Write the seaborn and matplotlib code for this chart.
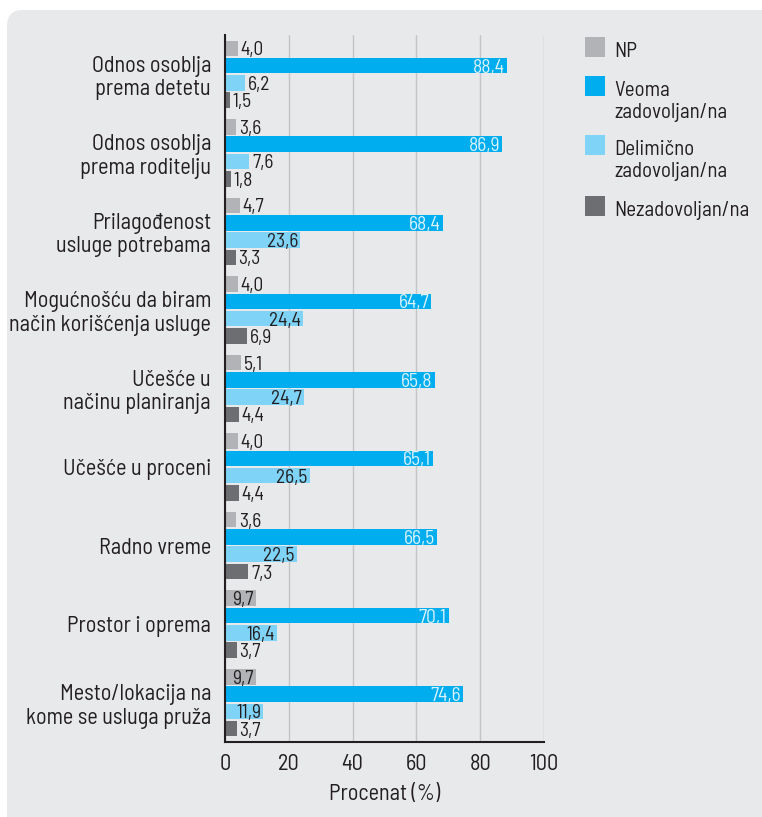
import numpy as np
import pandas as pd
import matplotlib
matplotlib.use("Agg")
import matplotlib.pyplot as plt
import seaborn as sns
from matplotlib.patches import FancyBboxPatch, Rectangle
from matplotlib.ticker import FixedLocator

# ---- data -------------------------------------------------------------
categories = [
    "Odnos osoblja\nprema detetu",
    "Odnos osoblja\nprema roditelju",
    "Prilagođenost\nusluge potrebama",
    "Mogućnošću da biram\nnačin korišćenja usluge",
    "Učešće u\nnačinu planiranja",
    "Učešće u proceni",
    "Radno vreme",
    "Prostor i oprema",
    "Mesto/lokacija na\nkome se usluga pruža",
]
series = ["NP", "Veoma\nzadovoljan/na", "Delimično\nzadovoljan/na", "Nezadovoljan/na"]
np_vals = [4.0, 3.6, 4.7, 4.0, 5.1, 4.0, 3.6, 9.7, 9.7]
veoma_vals = [88.4, 86.9, 68.4, 64.7, 65.8, 65.1, 66.5, 70.1, 74.6]
delim_vals = [6.2, 7.6, 23.6, 24.4, 24.7, 26.5, 22.5, 16.4, 11.9]
nezad_vals = [1.5, 1.8, 3.3, 6.9, 4.4, 4.4, 7.3, 3.7, 3.7]
x_ticks = [0, 20, 40, 60, 80, 100]
x_label = "Procenat (%)"

colors = ["#b1b3b6", "#00aeef", "#7fd3f7", "#6d6e71"]
series_vals = [np_vals, veoma_vals, delim_vals, nezad_vals]

df = pd.DataFrame({
    "kategorija": np.repeat(categories, len(series)),
    "grupa": series * len(categories),
    "vrednost": [series_vals[s][c] for c in range(len(categories)) for s in range(len(series))],
})

# ---- style -------------------------------------------------------------
sns.set_theme(style="white")
plt.rcParams["font.family"] = ["Barlow Semi Condensed", "DejaVu Sans"]
INK = "#231f20"
PANEL = "#e8e9eb"

W, H = 762, 817
fig = plt.figure(figsize=(W / 100, H / 100), dpi=100)
fig.patch.set_facecolor("white")
fig.add_artist(FancyBboxPatch((7 / W, -0.05), 1.2, (H - 10) / H + 0.05,
                              boxstyle="round,pad=0,rounding_size=0.02",
                              transform=fig.transFigure, facecolor=PANEL,
                              edgecolor="none", zorder=-10))

ax = fig.add_axes([225 / W, 75 / H, 319 / W, 707 / H])
ax.set_facecolor("none")

sns.barplot(data=df, y="kategorija", x="vrednost", hue="grupa",
            order=categories, hue_order=series, palette=colors,
            orient="h", width=0.88, gap=0.1, saturation=1, linewidth=0,
            errorbar=None, legend=False, ax=ax)

# value labels: inside the bar end when there is room, otherwise just past it
for k, cont in enumerate(ax.containers):
    for rect, v in zip(cont.patches, series_vals[k]):
        yc = rect.get_y() + rect.get_height() / 2
        txt = f"{v:.1f}".replace(".", ",")
        if v >= 9:
            ax.annotate(txt, (v, yc), xytext=(-1.5, 0), textcoords="offset points",
                        ha="right", va="center_baseline", fontsize=14,
                        color="#dcf2fc" if k == 1 else INK)
        else:
            ax.annotate(txt, (v, yc), xytext=(2, 0), textcoords="offset points",
                        ha="left", va="center_baseline", fontsize=14, color=INK)

ax.set_xlim(0, 100)
ax.set_ylim(len(categories) - 0.5, -0.5)
ax.set_xticks(x_ticks)
ax.xaxis.grid(True, color="#c4c5c7", linewidth=1)
ax.yaxis.grid(False)
ax.set_axisbelow(True)

for s in ["top", "right"]:
    ax.spines[s].set_visible(False)
for s in ["left", "bottom"]:
    ax.spines[s].set_color(INK)
    ax.spines[s].set_linewidth(1.5)

ax.yaxis.set_minor_locator(FixedLocator(np.arange(-0.5, len(categories), 1.0)))
ax.tick_params(axis="y", which="major", length=0, pad=10, labelsize=16, labelcolor=INK)
ax.tick_params(axis="y", which="minor", length=5, width=1.5, color=INK, direction="out")
ax.tick_params(axis="x", which="major", length=5, width=1.5, color=INK, direction="out",
               pad=4, labelsize=16, labelcolor=INK)
ax.set_ylabel("")
ax.set_xlabel(x_label, fontsize=16, color=INK, labelpad=6)
for lbl in ax.get_yticklabels():
    lbl.set_linespacing(1.15)

# legend
legend_tops = [37, 76, 135, 196]
for name, col, top in zip(series, colors, legend_tops):
    fig.add_artist(Rectangle((585 / W, 1 - (top + 20) / H), 20 / W, 20 / H,
                             transform=fig.transFigure, facecolor=col, edgecolor="none"))
    fig.text(614 / W, 1 - (top + 5) / H, name, ha="left", va="top",
             fontsize=15, color=INK, linespacing=1.2)

fig.savefig("out.png", dpi=100)
